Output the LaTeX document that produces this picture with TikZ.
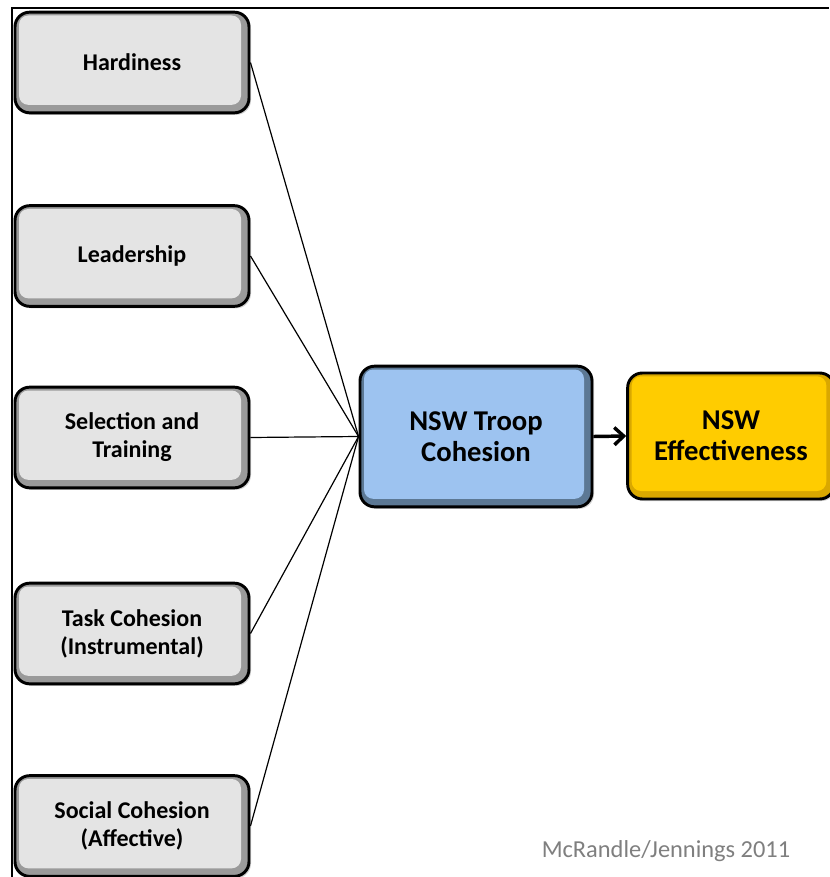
\documentclass[tikz,border=0pt]{standalone}
\usepackage{fontspec}
\setmainfont{Carlito}
\usetikzlibrary{arrows.meta,shadows}
\definecolor{grayrim}{HTML}{9A9A9A}
\definecolor{grayface}{HTML}{E4E4E4}
\definecolor{bluerim}{HTML}{5C7894}
\definecolor{blueface}{HTML}{9DC3F0}
\definecolor{goldrim}{HTML}{D9A800}
\definecolor{goldface}{HTML}{FFCC00}
\definecolor{creditgray}{HTML}{7F7F7F}
\tikzset{
  bevel/.style n args={2}{
    draw=black, line width=2.2pt, rounded corners=11pt, fill=#1,
    align=center, font=\bfseries,
    drop shadow={shadow xshift=1.5pt, shadow yshift=-1.5pt, opacity=0.35},
    path picture={
      \fill[#2, rounded corners=7pt]
        ([shift={(3pt,-2.5pt)}]path picture bounding box.north west) rectangle
        ([shift={(-6pt,6pt)}]path picture bounding box.south east);
    }},
  factor/.style={bevel={grayrim}{grayface}, minimum width=175.5pt, minimum height=75.5pt, font=\bfseries\fontsize{18}{21}\selectfont},
  outcome/.style={font=\bfseries\fontsize{21.5}{23.5}\selectfont},
  link/.style={draw=black, line width=0.9pt},
}
\begin{document}
\begin{tikzpicture}[x=0.75pt, y=-0.75pt]
  \useasboundingbox (0,0) rectangle (829,877);
  \fill[white] (0,0) rectangle (829,877);
  % frame
  \draw[line width=1.2pt] (12,877) -- (12,8) -- (829,8);

  % contributing factors
  \node[factor] (hard) at (132,62.5) {Hardiness};
  \node[factor] (lead) at (132,256) {Leadership};
  \node[factor] (sel) at (132,437.5) {Selection and\\Training};
  \node[factor] (task) at (132,633.5) {Task Cohesion\\(Instrumental)};
  \node[factor] (soc) at (132,826) {Social Cohesion\\(Affective)};

  % outcome chain
  \node[bevel={bluerim}{blueface}, minimum width=174pt, minimum height=105.5pt, outcome] (coh) at (476,436.5) {NSW Troop\\Cohesion};
  \node[bevel={goldrim}{goldface}, minimum width=155pt, minimum height=94.5pt, outcome] (eff) at (731,436) {NSW\\Effectiveness};

  % connectors
  \foreach \n in {hard,lead,sel,task,soc}
    \draw[link] (\n.east) -- (coh.west);
  \draw[line width=2.6pt, -{Straight Barb[length=7pt,width=13pt,line width=2.6pt]}] (coh.east) -- (eff.west);

  \node[text=creditgray, font=\fontsize{18.3}{22}\selectfont] (credit) at (666,851) {McRandle/Jennings 2011};
\end{tikzpicture}
\end{document}
